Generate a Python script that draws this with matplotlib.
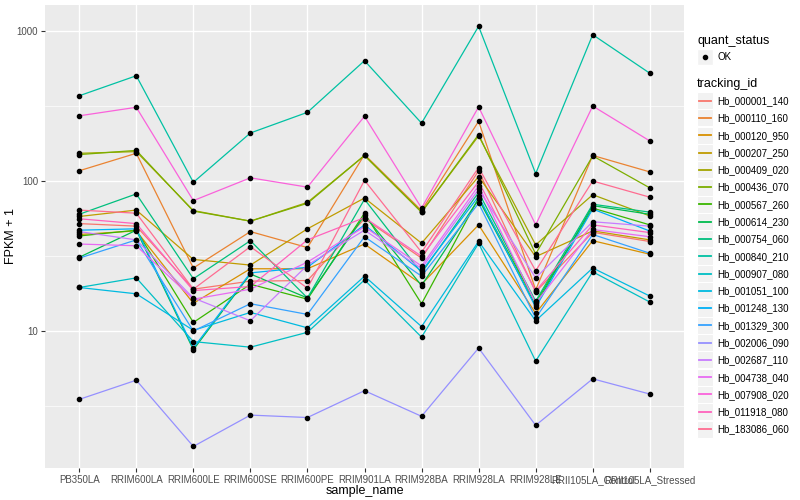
import numpy as np
import matplotlib.pyplot as plt
from matplotlib.patches import Rectangle
from matplotlib.lines import Line2D
from matplotlib.ticker import FixedLocator, NullFormatter

plt.rcParams['font.family'] = ['Liberation Sans', 'DejaVu Sans']

# 样本名称
samples = ['PB350LA', 'RRIM600LA', 'RRIM600LE', 'RRIM600SE', 'RRIM600PE', 'RRIM901LA',
           'RRIM928BA', 'RRIM928LA', 'RRIM928LE', 'RRII105LA_Control', 'RRII105LA_Stressed']

tracking_ids = ['Hb_000001_140', 'Hb_000110_160', 'Hb_000120_950', 'Hb_000207_250',
                'Hb_000409_020', 'Hb_000436_070', 'Hb_000567_260', 'Hb_000614_230',
                'Hb_000754_060', 'Hb_000840_210', 'Hb_000907_080', 'Hb_001051_100',
                'Hb_001248_130', 'Hb_001329_300', 'Hb_002006_090', 'Hb_002687_110',
                'Hb_004738_040', 'Hb_007908_020', 'Hb_011918_080', 'Hb_183086_060']

# FPKM + 1, 每个基因一行
fpkm = [
    [52, 50, 19, 21.5, 21.7, 56, 30.6, 117, 18.2, 45.5, 39.5],
    [117, 153, 26.3, 46, 36, 150, 63.5, 250, 18.8, 148, 115],
    [44, 46.5, 15.3, 26, 26, 38, 20.5, 51, 13.1, 40, 32.5],
    [58, 64, 30, 27.5, 48, 77, 38.5, 107, 31.3, 46.5, 40.5],
    [153, 157, 63.5, 54, 72, 148, 62, 200, 37.5, 81, 58.5],
    [150, 160, 63, 54, 71, 148, 62, 204, 32.6, 147, 90],
    [43, 47, 11.4, 20.5, 16.3, 61, 15.2, 77, 15.5, 66, 51],
    [31, 47, 7.5, 24, 16.6, 59, 20.1, 75.5, 14.8, 68.5, 60],
    [60, 82, 22.3, 40, 16.6, 75.5, 24.4, 84, 15.8, 70, 62],
    [370, 503, 98, 209, 287, 634, 243, 1075, 112, 945, 523],
    [19.5, 22.6, 8.5, 7.8, 9.8, 21.9, 9.1, 38.5, 6.3, 24.8, 15.6],
    [19.5, 17.7, 10.1, 13.3, 10.5, 23.2, 10.7, 39.6, 11.7, 26.3, 17.1],
    [47, 48, 7.7, 24.4, 26.6, 51, 25, 79, 14.4, 65, 46.4],
    [30.6, 40.5, 10, 15.2, 12.9, 42.5, 23.2, 71, 12.2, 44, 33],
    [3.5, 4.7, 1.7, 2.75, 2.65, 4.0, 2.7, 7.7, 2.35, 4.8, 3.8],
    [46, 40.5, 16.6, 11.7, 27.5, 47, 26.1, 88, 22.6, 53.5, 50],
    [38, 37, 16.3, 19, 28.8, 49.5, 27.1, 93, 15.3, 47.5, 42.5],
    [272, 310, 74, 105, 91, 270, 66, 312, 51, 316, 185],
    [56, 52, 18.6, 19.8, 40.5, 57, 31.5, 99, 18.5, 51, 45.3],
    [64, 61, 19, 36.5, 19.3, 101, 33.5, 123, 25.2, 100, 78],
]

colors = ['#F8766D', '#EA8331', '#D89000', '#C09B00', '#A3A500', '#7CAE00', '#39B600',
          '#00BB4E', '#00BF7D', '#00C1A3', '#00BFC4', '#00BAE0', '#00B0F6', '#35A2FF',
          '#9590FF', '#C77CFF', '#E76BF3', '#FA62DB', '#FF62BC', '#FF6C91']

fig = plt.figure(figsize=(8, 5), dpi=100)
ax = fig.add_axes([45 / 800, 32 / 500, 639 / 800, 463 / 500])
ax.set_facecolor('#EBEBEB')

x = np.arange(len(samples))
for vals, c in zip(fpkm, colors):
    ax.plot(x, vals, color=c, lw=0.9, zorder=2)
for vals in fpkm:
    ax.plot(x, vals, 'o', color='black', ms=3, zorder=3)

ax.set_yscale('log')
ax.set_ylim(10 ** 0.0867, 10 ** 3.1733)
ax.set_xlim(-0.6, len(samples) - 0.4)
ax.yaxis.set_major_locator(FixedLocator([10, 100, 1000]))
ax.set_yticklabels(['10', '100', '1000'])
ax.yaxis.set_minor_locator(FixedLocator([10 ** 0.5, 10 ** 1.5, 10 ** 2.5]))
ax.yaxis.set_minor_formatter(NullFormatter())
ax.set_xticks(x)
ax.set_xticklabels(samples)

ax.grid(True, which='major', color='white', lw=1.0)
ax.grid(True, which='minor', axis='y', color='white', lw=0.5)
ax.set_axisbelow(True)
for s in ax.spines.values():
    s.set_visible(False)
ax.tick_params(axis='both', which='major', length=3, width=0.8, color='#333333',
               labelsize=7, labelcolor='#4D4D4D', pad=2)
ax.tick_params(axis='y', which='minor', length=0)
ax.set_xlabel('sample_name', fontsize=9, labelpad=0)
ax.set_ylabel('FPKM + 1', fontsize=9)
ax.yaxis.set_label_coords(-(45 - 17) / 639, 0.5)

# 图例 (ggplot 风格)
lax = fig.add_axes([0, 0, 1, 1], zorder=-1)
lax.set_xlim(0, 800)
lax.set_ylim(500, 0)
lax.axis('off')

lax.text(697, 41, 'quant_status', fontsize=9, va='center', ha='left')
lax.add_patch(Rectangle((697, 49), 16, 16, facecolor='#F2F2F2', edgecolor='white'))
lax.plot([705], [57], 'o', color='black', ms=3)
lax.text(717, 57.5, 'OK', fontsize=7, va='center', ha='left')

lax.text(697, 84, 'tracking_id', fontsize=9, va='center', ha='left')
y0, dy = 100.7, 17.28
for i, (tid, c) in enumerate(zip(tracking_ids, colors)):
    yc = y0 + i * dy
    lax.add_patch(Rectangle((697, yc - 8.5), 16, 17, facecolor='#F2F2F2', edgecolor='white', lw=0.8))
    lax.add_line(Line2D([699, 711], [yc, yc], color=c, lw=1.3))
    lax.text(717, yc + 0.5, tid, fontsize=7, va='center', ha='left')

fig.savefig('out.png', dpi=100)
